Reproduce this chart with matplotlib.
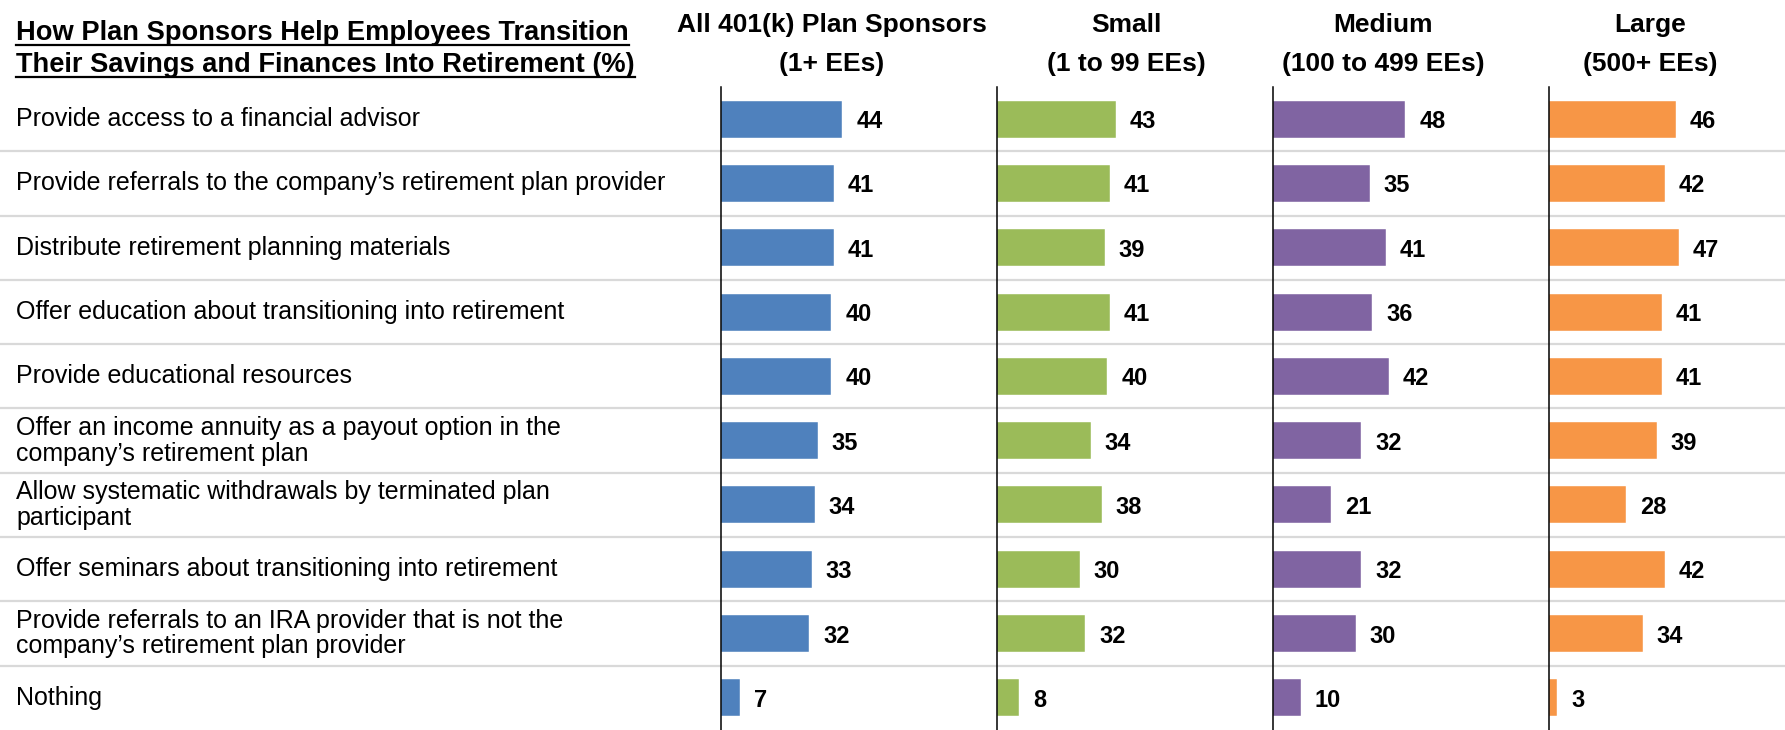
import numpy as np
import matplotlib.pyplot as plt
from matplotlib.lines import Line2D

plt.rcParams['font.family'] = ['Liberation Sans', 'DejaVu Sans']

# data
title_lines = ['How Plan Sponsors Help Employees Transition',
               'Their Savings and Finances Into Retirement (%)']
labels = [
    'Provide access to a financial advisor',
    'Provide referrals to the company\u2019s retirement plan provider',
    'Distribute retirement planning materials',
    'Offer education about transitioning into retirement',
    'Provide educational resources',
    'Offer an income annuity as a payout option in the\ncompany\u2019s retirement plan',
    'Allow systematic withdrawals by terminated plan\nparticipant',
    'Offer seminars about transitioning into retirement',
    'Provide referrals to an IRA provider that is not the\ncompany\u2019s retirement plan provider',
    'Nothing',
]
groups = ['All 401(k) Plan Sponsors', 'Small', 'Medium', 'Large']
group_sub = ['(1+ EEs)', '(1 to 99 EEs)', '(100 to 499 EEs)', '(500+ EEs)']
all_sponsors = [44, 41, 41, 40, 40, 35, 34, 33, 32, 7]
small = [43, 41, 39, 41, 40, 34, 38, 30, 32, 8]
medium = [48, 35, 41, 36, 42, 32, 21, 32, 30, 10]
large = [46, 42, 47, 41, 41, 39, 28, 42, 34, 3]
colors = ['#4F81BD', '#9BBB59', '#8064A2', '#F79646']

W, H = 1785, 730
fig = plt.figure(figsize=(W / 100, H / 100), dpi=100)

n = len(labels)
y = np.arange(n)
top = 1 - 87 / H

# background: row labels and separators across the full width
bg = fig.add_axes([0, 0, 1, top])
bg.set_xlim(0, W)
bg.set_ylim(n - 0.5, -0.5)
bg.axis('off')
for k in range(n - 1):
    bg.axhline(k + 0.5, color='#d9d9d9', lw=1.6, zorder=0)
for k, lab in enumerate(labels):
    bg.text(16, k, lab, va='center', ha='left', fontsize=18, linespacing=1.1)

panel_x = [721, 997, 1273, 1549]
header_x = [832, 1126, 1383, 1650]
series_list = [all_sponsors, small, medium, large]

for series, color, px, hx, g, sub in zip(series_list, colors, panel_x, header_x, groups, group_sub):
    ax = fig.add_axes([px / W, 0, 276 / W, top])
    ax.barh(y, series, height=0.575, color=color, edgecolor='white', linewidth=0.3)
    ax.set_xlim(0, 100)
    ax.set_ylim(n - 0.5, -0.5)
    for s in ['top', 'right', 'bottom']:
        ax.spines[s].set_visible(False)
    ax.spines['left'].set_linewidth(1.1)
    ax.spines['left'].set_zorder(3)
    ax.set_xticks([])
    ax.set_yticks([])
    ax.patch.set_visible(False)
    for yi, v in zip(y, series):
        ax.text(v + 5, yi, str(v), va='center_baseline', ha='left', fontsize=17, fontweight='bold')
    fig.text(hx / W, 1 - 31.7 / H, g, ha='center', va='baseline', fontsize=19, fontweight='bold')
    fig.text(hx / W, 1 - 71 / H, sub, ha='center', va='baseline', fontsize=19, fontweight='bold')

# underlined title
t1 = fig.text(16 / W, 1 - 39.5 / H, title_lines[0], ha='left', va='baseline', fontsize=19.6, fontweight='bold')
t2 = fig.text(16 / W, 1 - 72 / H, title_lines[1], ha='left', va='baseline', fontsize=19.6, fontweight='bold')
fig.canvas.draw()
r = fig.canvas.get_renderer()
for t, yb in [(t1, 39.5), (t2, 72)]:
    bb = t.get_window_extent(r)
    yl = 1 - (yb + 5) / H
    fig.add_artist(Line2D([bb.x0 / W, bb.x1 / W], [yl, yl], transform=fig.transFigure,
                          color='black', lw=1.6))

fig.savefig('out.png', dpi=100)
